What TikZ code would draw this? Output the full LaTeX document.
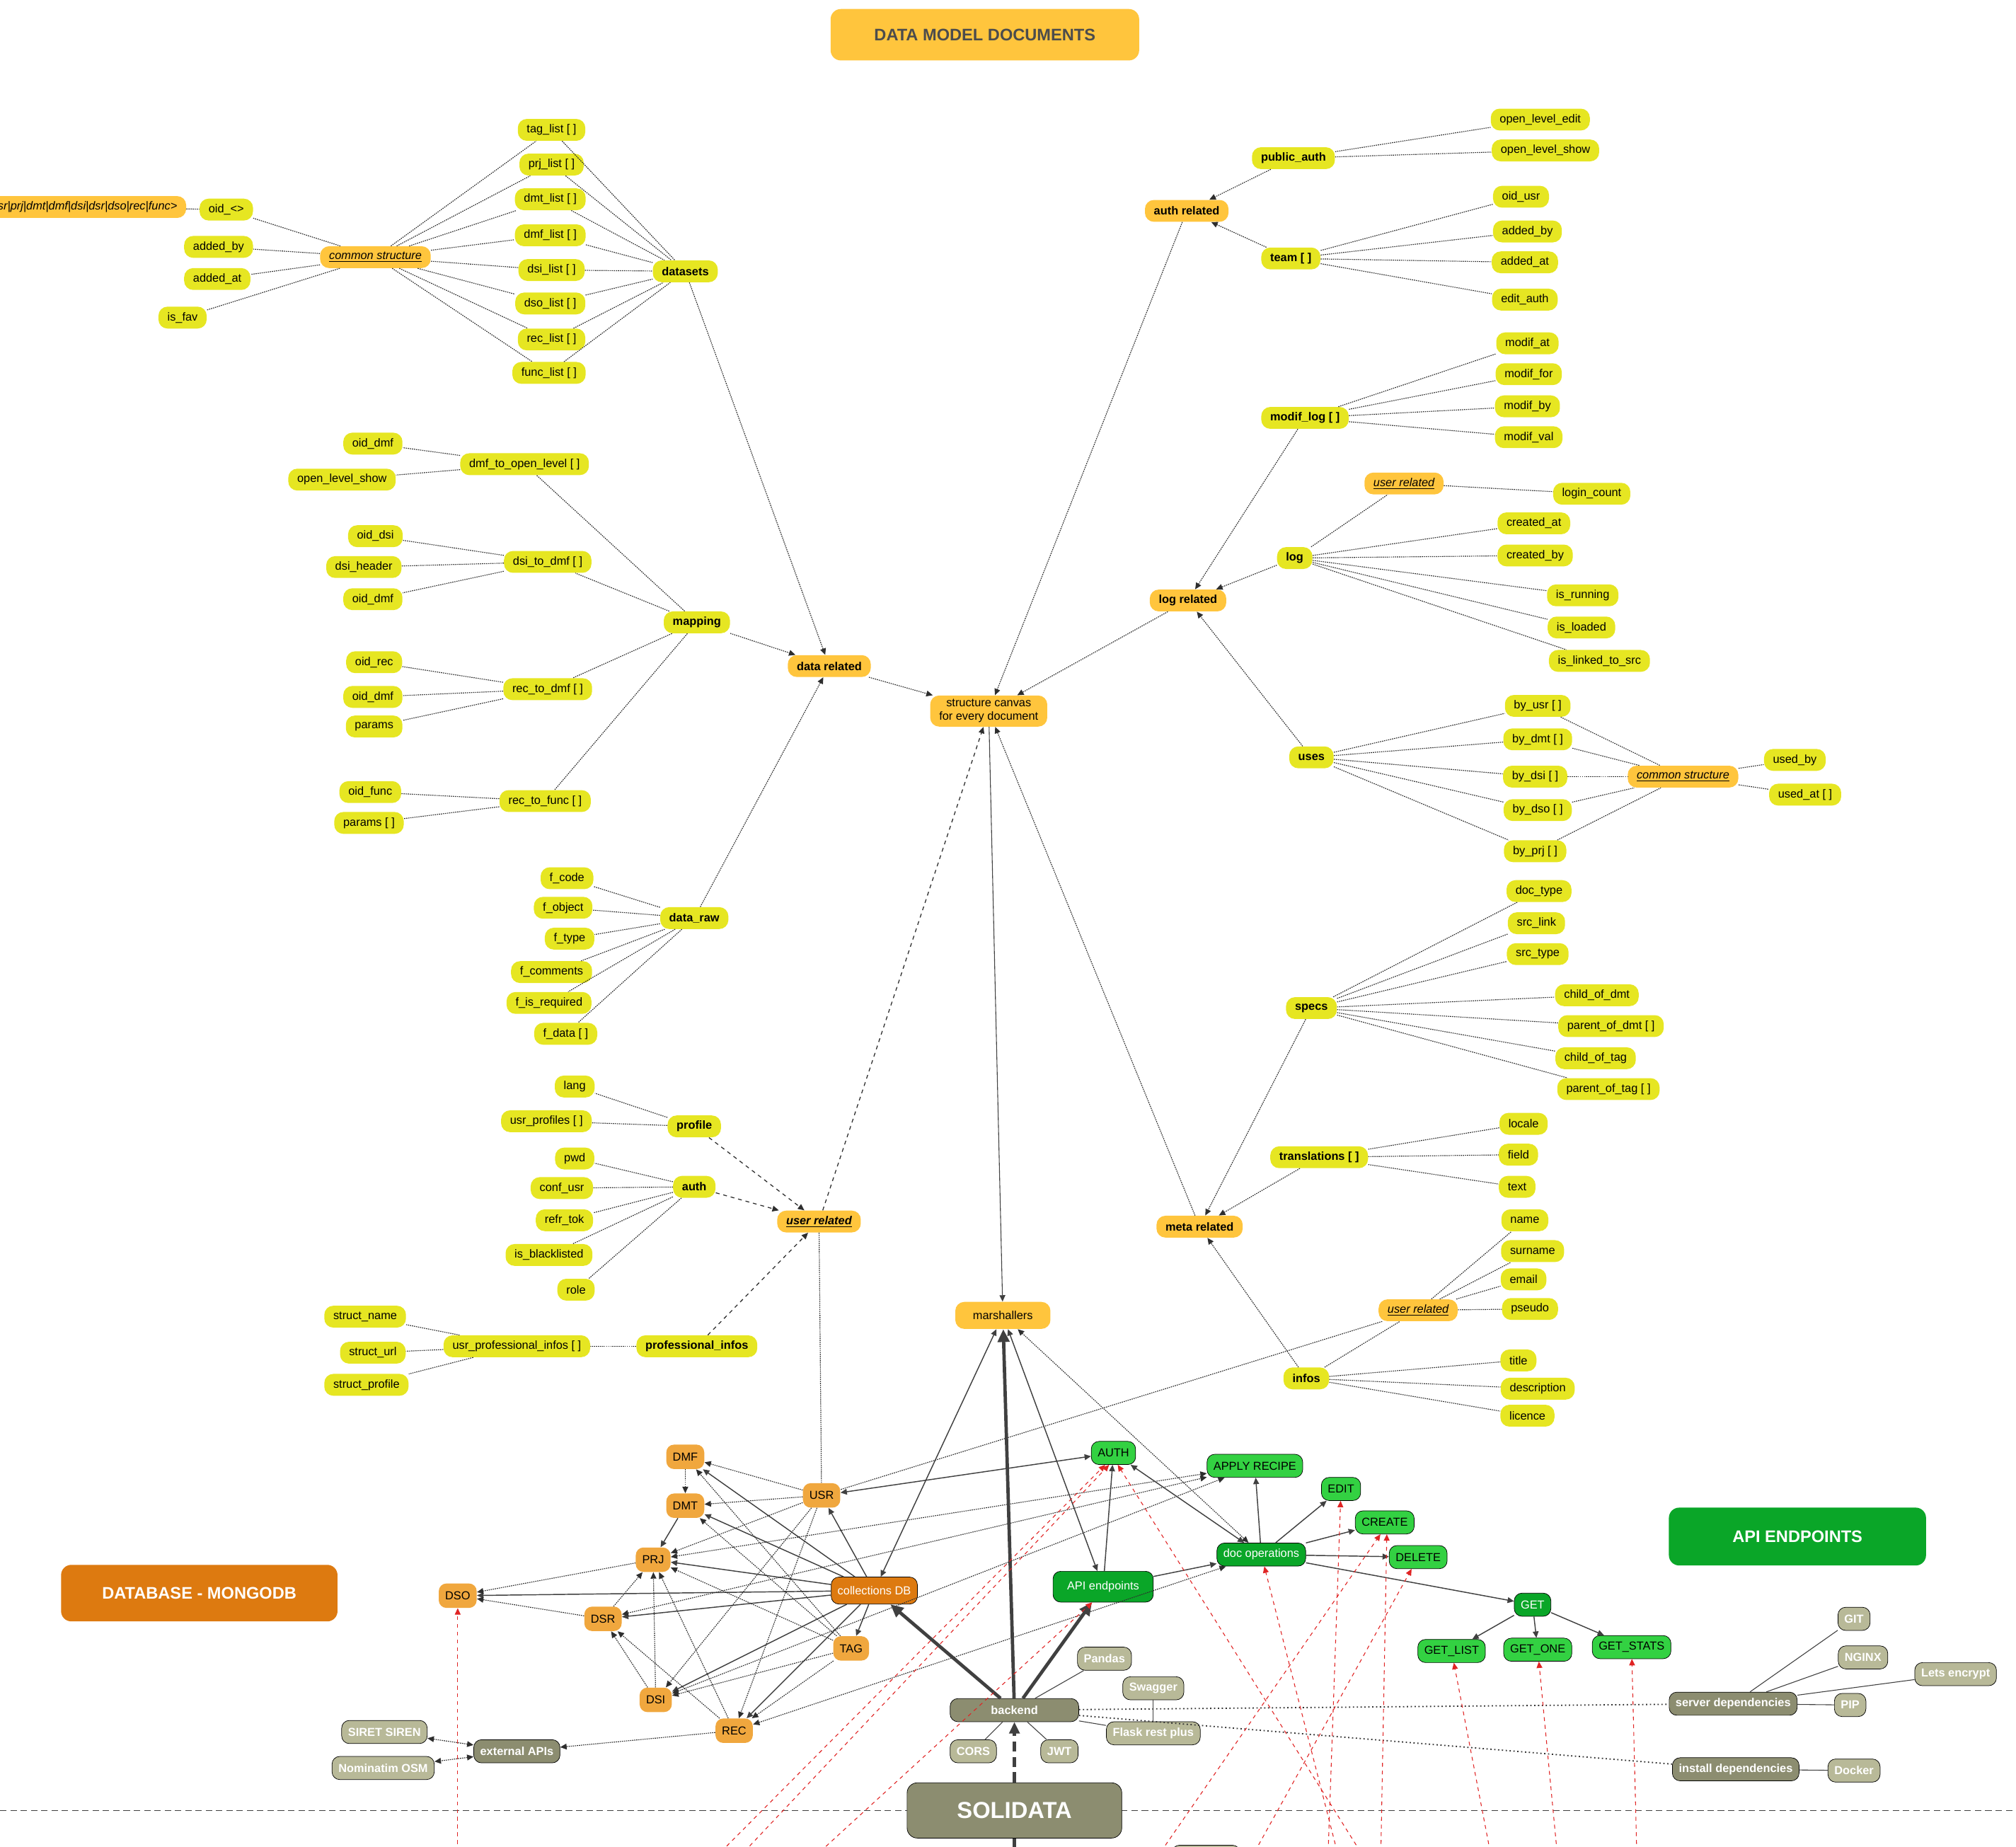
\documentclass[tikz,border=0pt]{standalone}
\usepackage{fontspec}
\setmainfont{Liberation Sans}
\usetikzlibrary{arrows.meta}
\definecolor{fieldyel}{HTML}{E6E622}
\definecolor{groupyel}{HTML}{FFC53D}
\definecolor{collorg}{HTML}{F0A73E}
\definecolor{dborg}{HTML}{DD7A10}
\definecolor{lgreen}{HTML}{33D142}
\definecolor{dgreen}{HTML}{0AA628}
\definecolor{dolive}{HTML}{8C8D70}
\definecolor{lolive}{HTML}{B8B998}
\definecolor{linkgray}{HTML}{2E2E2E}
\definecolor{redlink}{HTML}{E02424}
\begin{document}
\begin{tikzpicture}[x=1pt,y=-1pt,font=\fontsize{9}{10.5}\selectfont,
		>={Triangle[length=5pt,width=4.5pt]},
		pill/.style={rounded corners=7pt,inner xsep=7pt,inner ysep=2pt,minimum height=17pt},
		fieldnode/.style={pill,fill=fieldyel},
		fieldbold/.style={fieldnode,font=\fontsize{9}{10.5}\selectfont\bfseries},
		groupnode/.style={pill,fill=groupyel,font=\fontsize{9}{10.5}\selectfont\bfseries},
		refnode/.style={pill,fill=groupyel,font=\fontsize{9}{10.5}\selectfont\itshape},
		collnode/.style={rounded corners=6pt,fill=collorg,inner xsep=5pt,minimum height=19pt},
		dbnode/.style={rounded corners=6pt,fill=dborg,draw=black,text=white,inner xsep=5pt,minimum height=21pt},
		greennode/.style={rounded corners=6pt,fill=lgreen,draw=black,inner xsep=5pt,minimum height=18pt},
		dgreennode/.style={rounded corners=6pt,fill=dgreen,draw=black,text=white,inner xsep=5pt,minimum height=18pt},
		olivenode/.style={rounded corners=6pt,fill=dolive,draw=black,text=white,inner xsep=5pt,minimum height=18pt,font=\fontsize{9}{10.5}\selectfont\bfseries},
		lolivenode/.style={olivenode,fill=lolive},
		bannernode/.style={rounded corners=8pt,text=white,font=\fontsize{13}{15}\selectfont\bfseries},
		link/.style={linkgray,dash pattern=on 0.9pt off 0.7pt,line width=0.65pt},
		linkarrow/.style={link,->},
		linkboth/.style={link,<->},
		dashlink/.style={linkgray,dashed,line width=0.7pt,->},
		solidarrow/.style={black!75,line width=0.8pt,->},
		solidboth/.style={black!75,line width=0.8pt,<->},
		thickarrow/.style={black!75,line width=2.6pt,-{Triangle[length=10pt,width=9pt]}},
		thindraw/.style={black!75,line width=0.6pt},
		depslink/.style={black!80,dotted,line width=1pt},
		bootdash/.style={black!75,line width=2.4pt,dash pattern=on 8pt off 4pt},
		apicall/.style={redlink,dashed,line width=0.6pt,->}]
	\useasboundingbox (0,0) rectangle (1568,1436);
	\draw [black!75,dash pattern=on 5pt off 3pt,line width=0.9pt] (0,1408) -- (1568,1408);

	% titles
	\node [bannernode,fill=groupyel,text=black!70,minimum width=240pt,minimum height=40pt] (title) at (766,27) {DATA MODEL DOCUMENTS};
	\node [bannernode,fill=dborg,minimum width=215pt,minimum height=44pt] (dbbanner) at (155,1239) {DATABASE - MONGODB};
	\node [bannernode,fill=dgreen,minimum width=200pt,minimum height=45pt] (apibanner) at (1398,1195) {API ENDPOINTS};

	% datasets
	\node [fieldnode] (taglist) at (429,101) {tag\_list [ ]};
	\node [fieldnode] (prjlist) at (429,128) {prj\_list [ ]};
	\node [fieldnode] (dmtlist) at (428,155) {dmt\_list [ ]};
	\node [fieldnode] (dmflist) at (428,183) {dmf\_list [ ]};
	\node [fieldnode] (dsilist) at (429,210) {dsi\_list [ ]};
	\node [fieldnode] (dsolist) at (428,236) {dso\_list [ ]};
	\node [fieldnode] (reclist) at (429,264) {rec\_list [ ]};
	\node [fieldnode] (funclist) at (427,290) {func\_list [ ]};
	\node [fieldbold] (datasets) at (533,211) {datasets};
	\node [refnode] (comL) at (292,200) {\underline{common structure}};
	\node [fieldnode] (oidany) at (176,163) {oid\_<>};
	\node [refnode,anchor=east] (oidtypes) at (145,161) {<usr|prj|dmt|dmf|dsi|dsr|dso|rec|func>};
	\node [fieldnode] (addbyL) at (170,192) {added\_by};
	\node [fieldnode] (addatL) at (169,217) {added\_at};
	\node [fieldnode] (isfav) at (142,247) {is\_fav};
	\foreach \n in {taglist,prjlist,dmtlist,dmflist,dsilist,dsolist,reclist,funclist} {
		\draw [link] (comL) -- (\n);
		\draw [link] (\n) -- (datasets);
	}
	\foreach \n in {oidany,addbyL,addatL,isfav} \draw [link] (comL) -- (\n);
	\draw [link] (oidtypes) -- (oidany);

	% mapping
	\node [fieldnode] (oiddmfA) at (290,345) {oid\_dmf};
	\node [fieldnode] (olshowL) at (266,373) {open\_level\_show};
	\node [fieldnode] (dmfopen) at (408,361) {dmf\_to\_open\_level [ ]};
	\node [fieldnode] (oiddsi) at (292,417) {oid\_dsi};
	\node [fieldnode] (dsiheader) at (283,441) {dsi\_header};
	\node [fieldnode] (oiddmfB) at (290,466) {oid\_dmf};
	\node [fieldnode] (dsidmf) at (426,437) {dsi\_to\_dmf [ ]};
	\node [fieldbold] (mapping) at (542,484) {mapping};
	\node [fieldnode] (oidrec) at (291,515) {oid\_rec};
	\node [fieldnode] (oiddmfC) at (290,542) {oid\_dmf};
	\node [fieldnode] (params) at (291,565) {params};
	\node [fieldnode] (recdmf) at (426,536) {rec\_to\_dmf [ ]};
	\node [fieldnode] (oidfunc) at (288,616) {oid\_func};
	\node [fieldnode] (paramsL) at (287,640) {params [ ]};
	\node [fieldnode] (recfunc) at (424,623) {rec\_to\_func [ ]};
	\node [groupnode] (datarel) at (645,518) {data related};
	\foreach \n in {oiddmfA,olshowL} \draw [link] (dmfopen) -- (\n);
	\foreach \n in {oiddsi,dsiheader,oiddmfB} \draw [link] (dsidmf) -- (\n);
	\foreach \n in {oidrec,oiddmfC,params} \draw [link] (recdmf) -- (\n);
	\foreach \n in {oidfunc,paramsL} \draw [link] (recfunc) -- (\n);
	\foreach \n in {dmfopen,dsidmf,recdmf,recfunc} \draw [link] (mapping) -- (\n);

	% data_raw
	\node [fieldnode] (fcode) at (441,683) {f\_code};
	\node [fieldnode] (fobject) at (438,706) {f\_object};
	\node [fieldnode] (ftype) at (443,730) {f\_type};
	\node [fieldnode] (fcomments) at (429,756) {f\_comments};
	\node [fieldnode] (fisreq) at (427,780) {f\_is\_required};
	\node [fieldnode] (fdata) at (440,804) {f\_data [ ]};
	\node [fieldbold] (dataraw) at (540,714) {data\_raw};
	\foreach \n in {fcode,fobject,ftype,fcomments,fisreq,fdata} \draw [link] (dataraw) -- (\n);
	\draw [linkarrow] (datasets) -- (datarel);
	\draw [linkarrow] (mapping) -- (datarel);
	\draw [linkarrow] (dataraw) -- (datarel);

	% user
	\node [fieldnode] (lang) at (447,845) {lang};
	\node [fieldnode] (usrprof) at (425,872) {usr\_profiles [ ]};
	\node [fieldbold] (profile) at (540,876) {profile};
	\node [fieldnode] (pwd) at (447,901) {pwd};
	\node [fieldnode] (confusr) at (437,924) {conf\_usr};
	\node [fieldnode] (refrtok) at (439,949) {refr\_tok};
	\node [fieldnode] (isblack) at (427,976) {is\_blacklisted};
	\node [fieldnode] (role) at (448,1003) {role};
	\node [fieldbold] (authfld) at (540,923) {auth};
	\node [refnode,font=\fontsize{9}{10.5}\selectfont\bfseries\itshape] (userrelL) at (637,950) {\underline{user related}};
	\node [fieldnode] (structname) at (284,1024) {struct\_name};
	\node [fieldnode] (structurl) at (290,1052) {struct\_url};
	\node [fieldnode] (structprof) at (285,1077) {struct\_profile};
	\node [fieldnode] (usrproinf) at (402,1047) {usr\_professional\_infos [ ]};
	\node [fieldbold] (proinf) at (542,1047) {professional\_infos};
	\foreach \n in {lang,usrprof} \draw [link] (profile) -- (\n);
	\foreach \n in {pwd,confusr,refrtok,isblack,role} \draw [link] (authfld) -- (\n);
	\foreach \n in {structname,structurl,structprof} \draw [link] (usrproinf) -- (\n);
	\draw [link] (proinf) -- (usrproinf);
	\foreach \n in {profile,authfld,proinf} \draw [dashlink] (\n) -- (userrelL);

	% canvas
	\node [pill,fill=groupyel,align=center,inner ysep=3pt] (canvas) at (769,553) {structure canvas\\for every document};
	\node [pill,fill=groupyel,minimum width=74pt,minimum height=21pt] (marsh) at (780,1023) {marshallers};

	% auth related
	\node [groupnode] (authrel) at (923,164) {auth related};
	\node [fieldbold] (pubauth) at (1006,123) {public\_auth};
	\node [fieldnode] (oledit) at (1198,93) {open\_level\_edit};
	\node [fieldnode] (olshowR) at (1202,117) {open\_level\_show};
	\node [fieldbold] (team) at (1004,201) {team [ ]};
	\node [fieldnode] (oidusr) at (1183,153) {oid\_usr};
	\node [fieldnode] (addbyR) at (1188,180) {added\_by};
	\node [fieldnode] (addatR) at (1186,204) {added\_at};
	\node [fieldnode] (editauth) at (1186,233) {edit\_auth};
	\foreach \n in {oledit,olshowR} \draw [link] (pubauth) -- (\n);
	\foreach \n in {oidusr,addbyR,addatR,editauth} \draw [link] (team) -- (\n);
	\draw [linkarrow] (pubauth) -- (authrel);
	\draw [linkarrow] (team) -- (authrel);

	% log related
	\node [fieldbold] (modiflog) at (1015,325) {modif\_log [ ]};
	\node [fieldnode] (modifat) at (1188,267) {modif\_at};
	\node [fieldnode] (modiffor) at (1189,291) {modif\_for};
	\node [fieldnode] (modifby) at (1188,316) {modif\_by};
	\node [fieldnode] (modifval) at (1189,340) {modif\_val};
	\node [refnode] (userrelLog) at (1092,376) {\underline{user related}};
	\node [fieldnode] (logincount) at (1238,384) {login\_count};
	\node [fieldnode] (createdat) at (1193,407) {created\_at};
	\node [fieldnode] (createdby) at (1194,432) {created\_by};
	\node [fieldnode] (isrunning) at (1231,463) {is\_running};
	\node [fieldnode] (isloaded) at (1230,488) {is\_loaded};
	\node [fieldnode] (islinked) at (1244,514) {is\_linked\_to\_src};
	\node [fieldbold] (logfld) at (1007,434) {log};
	\node [groupnode] (logrel) at (924,467) {log related};
	\node [fieldbold] (uses) at (1020,589) {uses};
	\node [fieldnode] (byusr) at (1196,549) {by\_usr [ ]};
	\node [fieldnode] (bydmt) at (1196,575) {by\_dmt [ ]};
	\node [fieldnode] (bydsi) at (1194,604) {by\_dsi [ ]};
	\node [fieldnode] (bydso) at (1196,630) {by\_dso [ ]};
	\node [fieldnode] (byprj) at (1194,662) {by\_prj [ ]};
	\node [refnode] (comR) at (1309,604) {\underline{common structure}};
	\node [fieldnode] (usedby) at (1396,591) {used\_by};
	\node [fieldnode] (usedat) at (1404,618) {used\_at [ ]};
	\foreach \n in {modifat,modiffor,modifby,modifval} \draw [link] (modiflog) -- (\n);
	\foreach \n in {userrelLog,createdat,createdby,isrunning,isloaded,islinked} \draw [link] (logfld) -- (\n);
	\draw [link] (userrelLog) -- (logincount);
	\foreach \n in {byusr,bydmt,bydsi,bydso,byprj} {
		\draw [link] (uses) -- (\n);
		\draw [link] (\n) -- (comR);
	}
	\foreach \n in {usedby,usedat} \draw [link] (comR) -- (\n);
	\foreach \n in {modiflog,logfld,uses} \draw [linkarrow] (\n) -- (logrel);

	% meta related
	\node [fieldbold] (specs) at (1020,784) {specs};
	\node [fieldnode] (doctype) at (1197,693) {doc\_type};
	\node [fieldnode] (srclink) at (1195,718) {src\_link};
	\node [fieldnode] (srctype) at (1196,742) {src\_type};
	\node [fieldnode] (childdmt) at (1242,774) {child\_of\_dmt};
	\node [fieldnode] (parentdmt) at (1253,798) {parent\_of\_dmt [ ]};
	\node [fieldnode] (childtag) at (1241,823) {child\_of\_tag};
	\node [fieldnode] (parenttag) at (1251,847) {parent\_of\_tag [ ]};
	\node [fieldbold] (transl) at (1026,900) {translations [ ]};
	\node [fieldnode] (locale) at (1185,874) {locale};
	\node [fieldnode] (field) at (1181,898) {field};
	\node [fieldnode] (ttext) at (1180,923) {text};
	\node [groupnode] (metarel) at (933,954) {meta related};
	\node [refnode] (userrelMeta) at (1103,1019) {\underline{user related}};
	\node [fieldnode] (uname) at (1186,949) {name};
	\node [fieldnode] (surname) at (1192,973) {surname};
	\node [fieldnode] (email) at (1185,995) {email};
	\node [fieldnode] (pseudo) at (1190,1018) {pseudo};
	\node [fieldbold] (infos) at (1016,1072) {infos};
	\node [fieldnode] (ttitle) at (1181,1058) {title};
	\node [fieldnode] (descr) at (1196,1080) {description};
	\node [fieldnode] (licence) at (1188,1101) {licence};
	\foreach \n in {doctype,srclink,srctype,childdmt,parentdmt,childtag,parenttag} \draw [link] (specs) -- (\n);
	\foreach \n in {locale,field,ttext} \draw [link] (transl) -- (\n);
	\foreach \n in {uname,surname,email,pseudo} \draw [link] (userrelMeta) -- (\n);
	\foreach \n in {userrelMeta,ttitle,descr,licence} \draw [link] (infos) -- (\n);
	\foreach \n in {specs,transl,infos} \draw [linkarrow] (\n) -- (metarel);

	% to the canvas
	\foreach \n in {datarel,authrel,logrel,metarel} \draw [linkarrow] (\n) -- (canvas);
	\draw [dashlink] (userrelL) -- (canvas);
	\draw [black!75,line width=0.6pt,->] (canvas) -- (marsh);

	% database
	\node [collnode] (DMF) at (533,1133) {DMF};
	\node [collnode] (DMT) at (533,1171) {DMT};
	\node [collnode] (USR) at (639,1163) {USR};
	\node [collnode] (PRJ) at (508,1213) {PRJ};
	\node [dbnode] (colldb) at (680,1237) {collections DB};
	\node [collnode] (DSO) at (356,1241) {DSO};
	\node [collnode] (DSR) at (469,1259) {DSR};
	\node [collnode] (TAG) at (662,1282) {TAG};
	\node [collnode] (DSI) at (510,1322) {DSI};
	\node [collnode] (REC) at (571,1346) {REC};
	\node [olivenode] (extapi) at (402,1362) {external APIs};
	\node [lolivenode] (siret) at (299,1347) {SIRET SIREN};
	\node [lolivenode] (nomin) at (298,1375) {Nominatim OSM};

	% api
	\node [greennode] (AUTH) at (866,1130) {AUTH};
	\node [greennode] (apply) at (976,1140) {APPLY RECIPE};
	\node [greennode] (edit) at (1043,1158) {EDIT};
	\node [greennode] (create) at (1077,1184) {CREATE};
	\node [greennode] (delete) at (1103,1211) {DELETE};
	\node [dgreennode] (docops) at (981,1209) {doc operations};
	\node [dgreennode,minimum width=78pt,minimum height=24pt] (apiend) at (858,1234) {API endpoints};
	\node [dgreennode] (GET) at (1192,1248) {GET};
	\node [greennode] (getlist) at (1129,1284) {GET\_LIST};
	\node [greennode] (getone) at (1196,1283) {GET\_ONE};
	\node [greennode] (getstats) at (1269,1281) {GET\_STATS};

	% backend
	\node [lolivenode] (pandas) at (859,1290) {Pandas};
	\node [lolivenode] (swagger) at (897,1313) {Swagger};
	\node [lolivenode] (flask) at (897,1348) {Flask rest plus};
	\node [olivenode,minimum width=100pt] (backend) at (789,1330) {backend};
	\node [lolivenode] (cors) at (757,1362) {CORS};
	\node [lolivenode] (jwt) at (824,1362) {JWT};
	\node [bannernode,fill=dolive,draw=black,font=\fontsize{18}{20}\selectfont\bfseries,minimum width=167pt,minimum height=43pt] (solidata) at (789,1408) {SOLIDATA};
	\node [olivenode] (servdep) at (1348,1325) {server dependencies};
	\node [lolivenode] (git) at (1442,1259) {GIT};
	\node [lolivenode] (nginx) at (1449,1289) {NGINX};
	\node [lolivenode] (letsenc) at (1521,1302) {Lets encrypt};
	\node [lolivenode] (pip) at (1439,1326) {PIP};
	\node [olivenode] (instdep) at (1350,1376) {install dependencies};
	\node [lolivenode] (docker) at (1442,1377) {Docker};
	\node [lolivenode,minimum width=53pt,minimum height=30pt] (stackA) at (938,1450) {};
	\node [olivenode,minimum width=80pt,minimum height=30pt] (stackB) at (1340,1452) {};
	\coordinate (solbottom) at (789,1440);

	% database links
	\foreach \n in {DMF,DMT,PRJ,DSO,DSR,USR,TAG,DSI,REC} \draw [solidarrow] (colldb) -- (\n);
	\draw [solidarrow] (DMT) -- (PRJ);
	\draw [linkarrow] (DMF) -- (DMT);
	\foreach \n in {DMF,DMT,PRJ,DSI,REC} {
		\draw [linkarrow] (USR) -- (\n);
		\draw [linkarrow] (TAG) -- (\n);
	}
	\foreach \a/\b in {PRJ/DSO,DSR/DSO,DSR/PRJ,DSI/PRJ,REC/PRJ,DSI/DSR,REC/DSR,REC/extapi} \draw [linkarrow] (\a) -- (\b);
	\draw [linkboth] (extapi) -- (siret);
	\draw [linkboth] (extapi) -- (nomin);
	\draw [link] (userrelL) -- (USR);
	\draw [link] (userrelMeta) -- (USR);
	\foreach \n in {PRJ,DSR,DSI} \draw [linkboth] (\n) -- (apply);
	\draw [linkboth] (REC) -- (docops);

	% marshallers and api links
	\draw [solidboth] (marsh) -- (colldb);
	\draw [solidboth] (marsh) -- (apiend);
	\draw [linkboth] (marsh) -- (docops);
	\draw [solidboth] (USR) -- (AUTH);
	\draw [solidarrow] (apiend) -- (AUTH);
	\draw [solidboth] (docops) -- (AUTH);
	\draw [solidarrow] (apiend) -- (docops);
	\foreach \n in {apply,edit,create,delete,GET} \draw [solidarrow] (docops) -- (\n);
	\foreach \n in {getlist,getone,getstats} \draw [solidarrow] (GET) -- (\n);

	% backend links
	\foreach \n in {colldb,marsh,apiend} \draw [thickarrow] (backend) -- (\n);
	\foreach \n in {pandas,flask,cors,jwt} \draw [thindraw] (backend) -- (\n);
	\draw [thindraw] (swagger) -- (flask);
	\draw [depslink] (backend) -- (servdep);
	\draw [depslink] (backend) -- (instdep);
	\foreach \n in {git,nginx,letsenc,pip} \draw [thindraw] (servdep) -- (\n);
	\draw [thindraw] (instdep) -- (docker);
	\draw [bootdash,-{Triangle[length=9pt,width=8pt]}] (solidata) -- (backend);
	\draw [bootdash] (solidata) -- (solbottom);

	% calls from below
	\foreach \x/\t in {356/DSO,561/AUTH.235,579/AUTH.250,638/apiend.235,903/create.250,976/delete,1033/edit,1040/docops,1058/AUTH.290,1074/create.280,1159/getlist,1211/getone,1273/getstats}
		\draw [apicall] (\x,1440) -- (\t);
\end{tikzpicture}
\end{document}
